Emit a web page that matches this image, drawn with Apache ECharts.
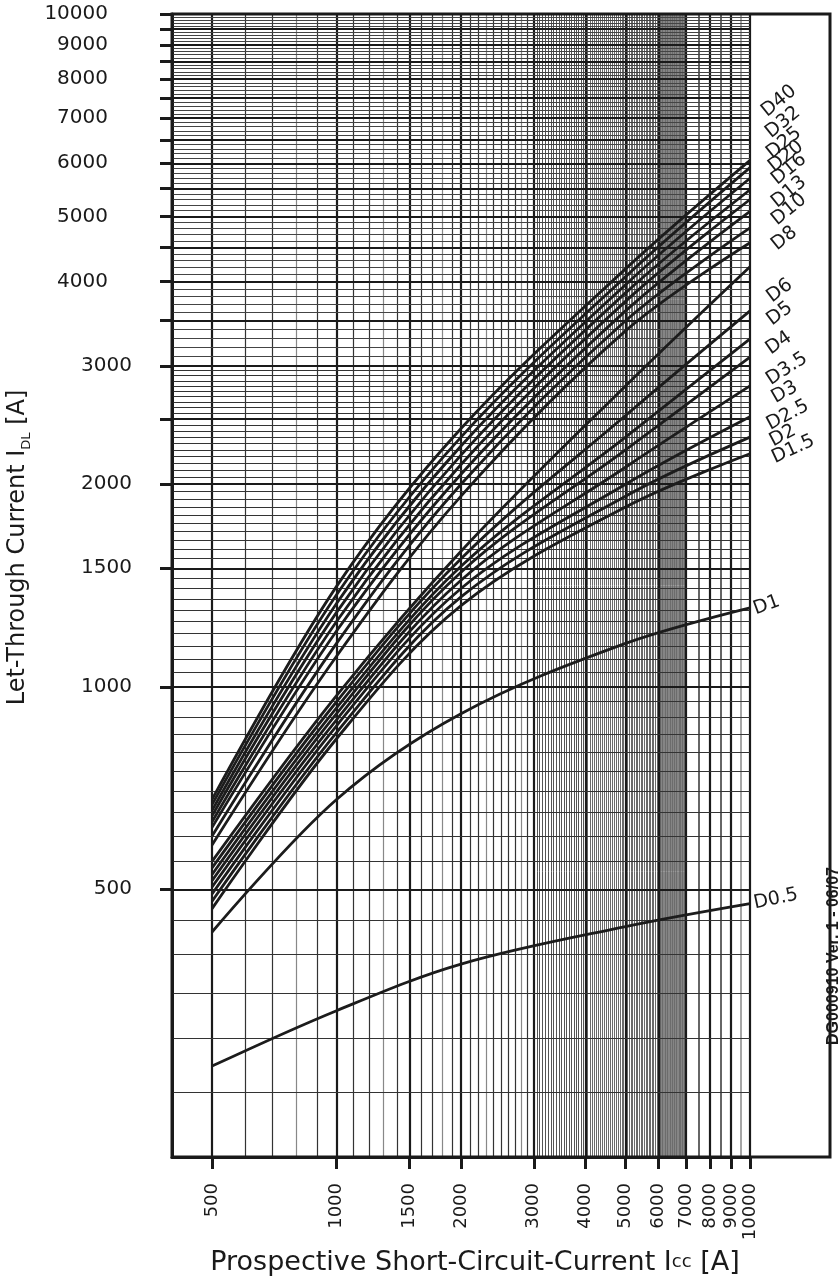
<!DOCTYPE html>
<html>
<head>
<meta charset="utf-8">
<script src="https://cdn.jsdelivr.net/npm/echarts@6/dist/echarts.min.js"></script>
<style>
    html, body { margin: 0; padding: 0; background: #fff; }
    #main { width: 840px; height: 1280px; }
</style>
</head>
<body>
<div id="main"></div>
<script>
    var iccPoints = [500, 1000, 2000, 5000, 10000];

    // let-through current of each curve at those points
    var d0_5 = [273, 330, 387, 440, 476];
    var d1   = [432, 680, 912, 1160, 1310];
    var d1_5 = [468, 837, 1320, 1850, 2220];
    var d2   = [480, 855, 1360, 1920, 2350];
    var d2_5 = [492, 875, 1400, 2000, 2520];
    var d3   = [504, 893, 1440, 2120, 2800];
    var d3_5 = [515, 912, 1480, 2250, 3090];
    var d4   = [526, 930, 1510, 2350, 3290];
    var d5   = [538, 950, 1550, 2530, 3620];
    var d6   = [550, 970, 1590, 2800, 4210];
    var d8   = [582, 1110, 1920, 3380, 4570];
    var d10  = [600, 1160, 2000, 3500, 4810];
    var d13  = [618, 1210, 2070, 3620, 5090];
    var d16  = [630, 1250, 2140, 3740, 5300];
    var d20  = [643, 1290, 2210, 3850, 5480];
    var d25  = [655, 1330, 2280, 3960, 5700];
    var d32  = [668, 1370, 2350, 4070, 5910];
    var d40  = [680, 1410, 2420, 4180, 6060];

    var curveNames = ['D0.5', 'D1', 'D1.5', 'D2', 'D2.5', 'D3', 'D3.5', 'D4', 'D5', 'D6',
                      'D8', 'D10', 'D13', 'D16', 'D20', 'D25', 'D32', 'D40'];
    var curveValues = [d0_5, d1, d1_5, d2, d2_5, d3, d3_5, d4, d5, d6,
                       d8, d10, d13, d16, d20, d25, d32, d40];

    // axis ticks and labels
    var xLabels = [500, 1000, 1500, 2000, 3000, 4000, 5000, 6000, 7000, 8000, 9000, 10000];
    var yLabels = [500, 1000, 1500, 2000, 3000, 4000, 5000, 6000, 7000, 8000, 9000, 10000];
    var yTicks  = [500, 1000, 1500, 2000, 2500, 3000, 3500, 4000, 4500, 5000, 5500, 6000,
                   6500, 7000, 7500, 8000, 8500, 9000, 9500, 10000];

    // end label placement: screen shift from the curve end [dx, dy] and lean in degrees
    var labelPlace = {
        'D40': [14, -47, 39], 'D32': [18, -33, 39], 'D25': [19, -23, 39], 'D20': [21, -21, 39],
        'D16': [24, -18, 39], 'D13': [24, -7, 39], 'D10': [24, -6, 39], 'D8': [24, 4, 39],
        'D6': [19, 32, 37], 'D5': [19, 11, 37], 'D4': [18, 12, 35], 'D3.5': [18, 24, 33],
        'D3': [23, 13, 30], 'D2.5': [18, 9, 28], 'D2': [21, 5, 28], 'D1.5': [23, 5, 25],
        'D1': [4, 2, 20], 'D0.5': [4, 0, 12]
    };

    // helpers for the log paper ruling
    function steps(from, to, step, skip) {
        var out = [];
        for (var v = from; v <= to + 1e-6; v += step) {
            var r = Math.round(v);
            if (!skip || skip.indexOf(r) < 0) out.push(r);
        }
        return out;
    }
    function ruling(key, values, color, width) {
        return {
            type: 'line',
            data: [[400, 200]],
            symbol: 'none',
            lineStyle: { opacity: 0 },
            silent: true,
            z: 1,
            markLine: {
                silent: true,
                symbol: ['none', 'none'],
                label: { show: false },
                emphasis: { disabled: true },
                lineStyle: { color: color, width: width, type: 'solid' },
                data: values.map(function (v) {
                    var o = {};
                    o[key] = v;
                    return o;
                })
            }
        };
    }
    // label offset is applied in the rotated frame, so turn the screen shift back
    function localOffset(p) {
        var a = p[2] * Math.PI / 180, c = Math.cos(a), s = Math.sin(a);
        return [p[0] * c - p[1] * s, p[0] * s + p[1] * c];
    }

    var font = 'DejaVu Sans';
    var ink = '#1a1a1a';
    var grays = [800, 1300, 1800, 2300, 2800];

    var series = [];
    // vertical lines
    series.push(ruling('xAxis', steps(600, 3000, 100, xLabels.concat(grays)), '#333', 1.2));
    series.push(ruling('xAxis', grays, '#888', 1.2));
    series.push(ruling('xAxis', steps(3050, 3950, 50), '#555', 1));
    series.push(ruling('xAxis', steps(4050, 5950, 50, xLabels), '#5a5a5a', 0.9));
    series.push(ruling('xAxis', steps(6025, 6975, 25), '#666', 0.8));
    series.push(ruling('xAxis', [7500, 8500], '#333', 1.5));
    series.push(ruling('xAxis', [9500], '#888', 1.5));
    series.push(ruling('xAxis', xLabels, ink, 2.2));
    // horizontal lines
    series.push(ruling('yAxis', steps(250, 3000, 50, yTicks), '#333', 1.2));
    series.push(ruling('yAxis', steps(3100, 9900, 100, yTicks), '#444', 1));
    series.push(ruling('yAxis', yTicks, ink, 2.2));

    curveNames.forEach(function (name, i) {
        var p = labelPlace[name];
        series.push({
            name: name,
            type: 'line',
            data: iccPoints.map(function (x, j) { return [x, curveValues[i][j]]; }),
            smooth: 0.35,
            symbol: 'none',
            z: 5,
            lineStyle: { color: '#1c1c1c', width: 2.8 },
            endLabel: {
                show: true,
                formatter: '{a}',
                distance: 0,
                align: 'left',
                verticalAlign: 'middle',
                offset: localOffset(p),
                rotate: p[2],
                color: ink,
                fontFamily: font,
                fontSize: 19
            }
        });
    });

    var chart = echarts.init(document.getElementById('main'));
    chart.setOption({
        animation: false,
        backgroundColor: '#fff',
        grid: { left: 172, top: 14, right: 90, bottom: 123, containLabel: false, outerBoundsMode: 'none' },
        xAxis: {
            type: 'log',
            logBase: 10,
            min: 400,
            max: 10000,
            name: 'Prospective Short-Circuit-Current I{cc|cc} [A]',
            nameLocation: 'middle',
            nameGap: 89,
            nameTextStyle: {
                color: ink, fontFamily: font, fontSize: 27, lineHeight: 30, verticalAlign: 'top',
                padding: [0, 0, 0, 28],
                rich: {
                    cc: {
                        fontFamily: font, fontSize: 18, lineHeight: 20, verticalAlign: 'bottom',
                        padding: [0, 0, 7, 0], color: ink
                    }
                }
            },
            axisLine: { show: true, lineStyle: { color: ink, width: 3 } },
            axisTick: { show: true, customValues: xLabels, length: 12, lineStyle: { color: ink, width: 3 } },
            axisLabel: {
                customValues: xLabels, rotate: 90, margin: 26, color: ink, fontFamily: font, fontSize: 18,
                formatter: function (v) { return String(Math.round(v)); }
            },
            splitLine: { show: false },
            minorTick: { show: false },
            minorSplitLine: { show: false }
        },
        yAxis: {
            type: 'log',
            logBase: 10,
            min: 200,
            max: 10000,
            name: 'Let-Through Current I{sub|DL} [A]',
            nameLocation: 'middle',
            nameGap: 134,
            nameRotate: 90,
            nameTextStyle: {
                color: ink, fontFamily: font, fontSize: 24, lineHeight: 32,
                padding: [0, 0, 0, 76],
                rich: { sub: { fontFamily: font, fontSize: 13, lineHeight: 13, verticalAlign: 'bottom', color: ink } }
            },
            axisLine: { show: true, lineStyle: { color: ink, width: 3 } },
            axisTick: { show: true, customValues: yTicks, length: 12, lineStyle: { color: ink, width: 3 } },
            axisLabel: {
                customValues: yLabels, margin: 40, color: ink, fontFamily: font, fontSize: 20,
                formatter: function (v) {
                    v = Math.round(v);
                    return v >= 4000 ? '{far|' + v + '}' : String(v);
                },
                rich: { far: { fontFamily: font, fontSize: 20, color: ink, padding: [0, 24, 0, 0] } }
            },
            splitLine: { show: false },
            minorTick: { show: false },
            minorSplitLine: { show: false }
        },
        graphic: [
            {
                type: 'rect',
                silent: true,
                z: 100,
                shape: { x: 172, y: 14, width: 658, height: 1143 },
                style: { fill: 'none', stroke: ink, lineWidth: 3 }
            },
            {
                type: 'text',
                silent: true,
                x: 834,
                y: 956,
                rotation: Math.PI / 2,
                style: {
                    text: 'DG000910 Ver. 1 - 06/07',
                    font: 'bold 16px "Liberation Sans", Arial, sans-serif',
                    fill: ink,
                    align: 'center',
                    verticalAlign: 'middle'
                }
            }
        ],
        series: series
    });
</script>
</body>
</html>
